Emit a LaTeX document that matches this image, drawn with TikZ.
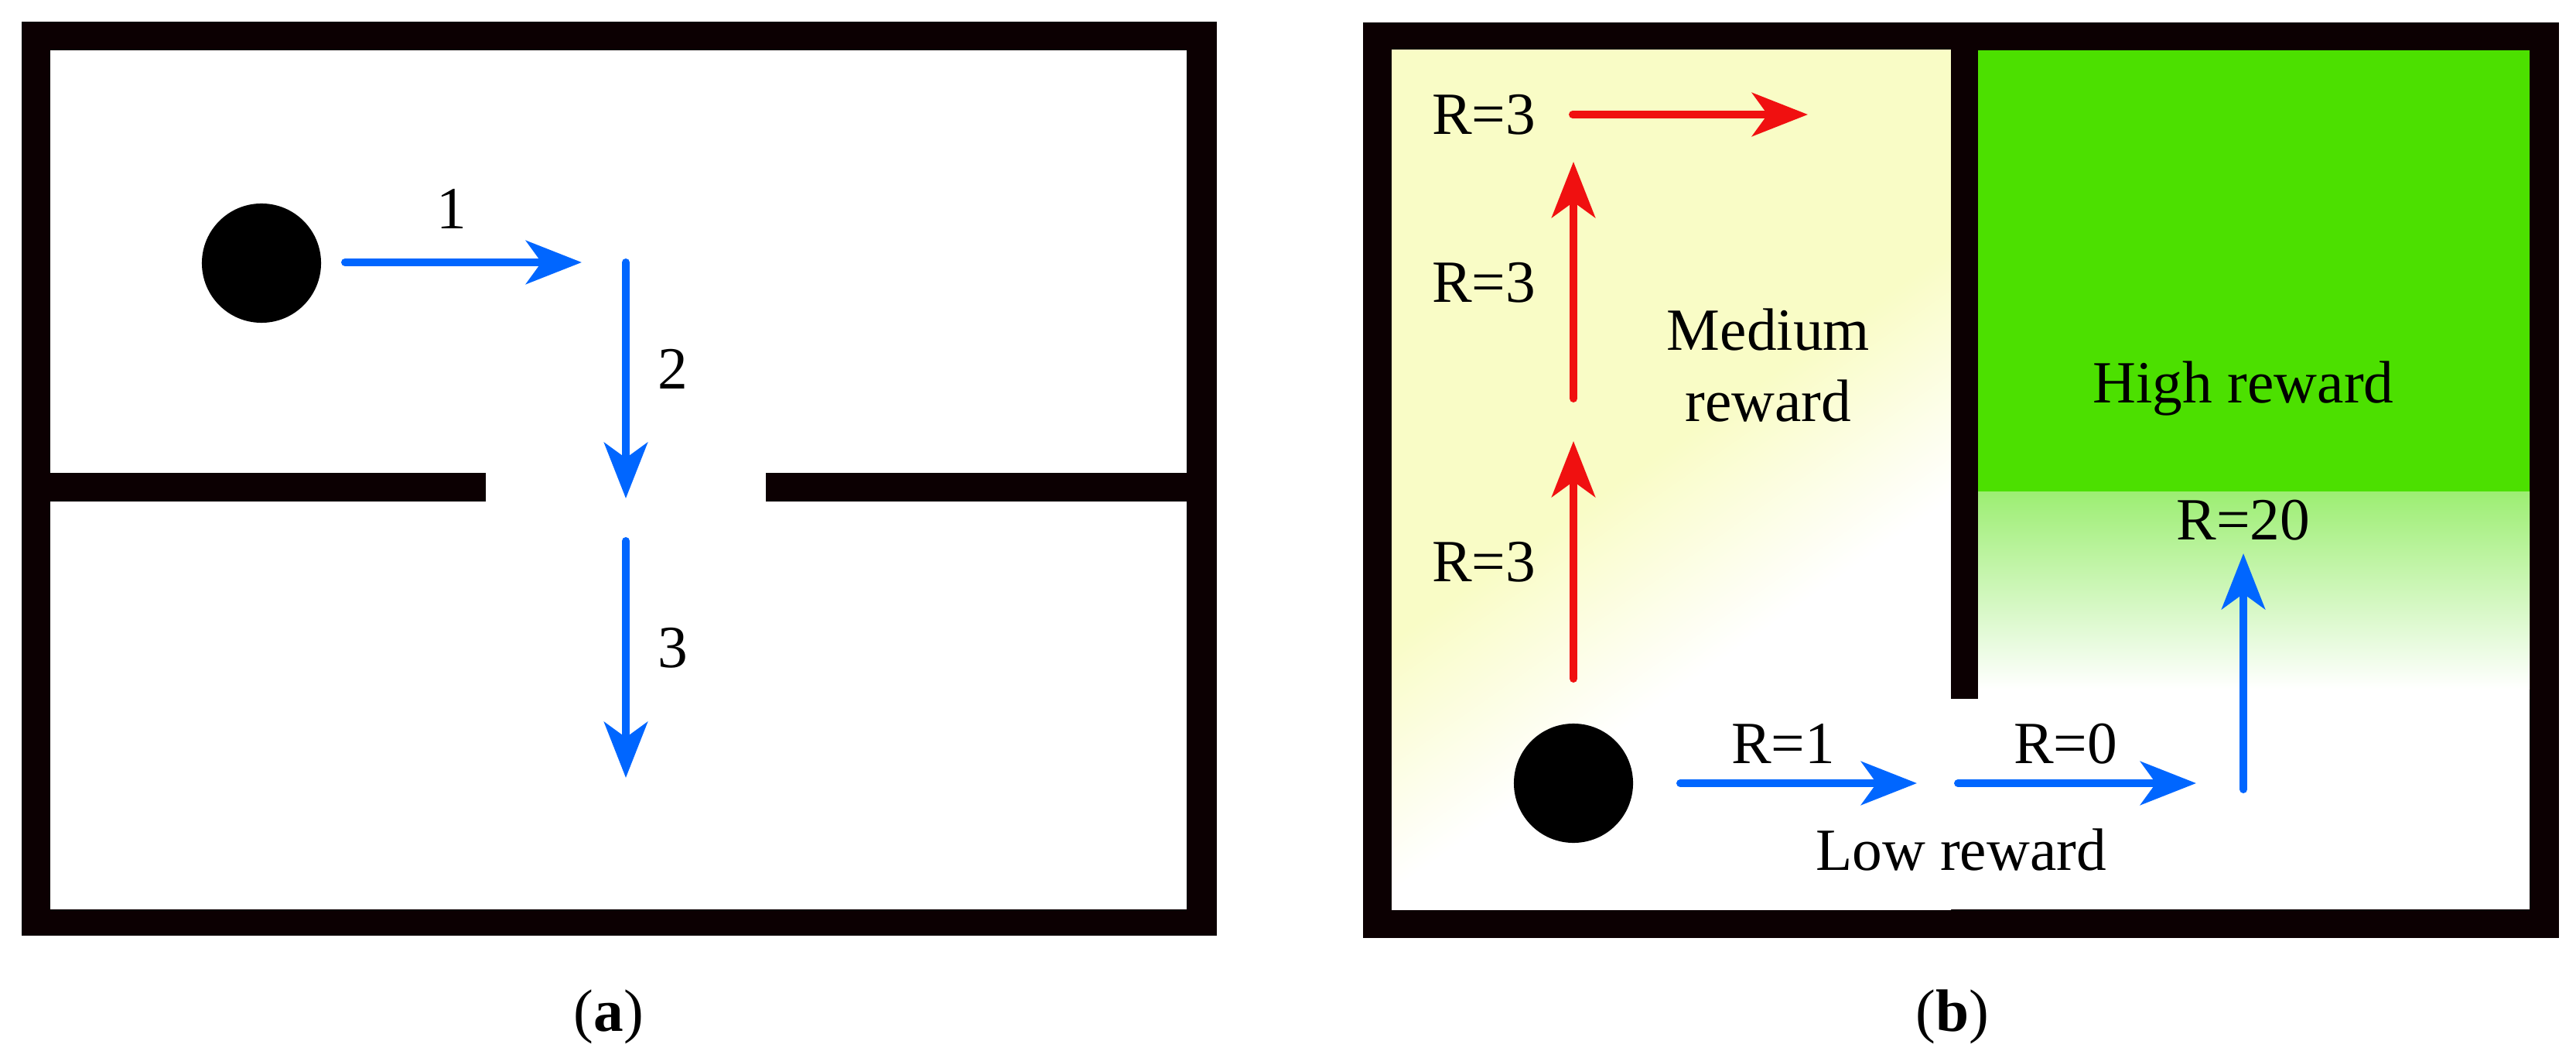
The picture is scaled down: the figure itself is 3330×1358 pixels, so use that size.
\documentclass[tikz,border=0pt]{standalone}
\usepackage{fontspec}
\setmainfont{Liberation Serif}
\usetikzlibrary{arrows.meta}
\definecolor{wall}{RGB}{12,0,2}
\definecolor{arblue}{RGB}{0,102,255}
\definecolor{arred}{RGB}{240,16,16}
\definecolor{hgreen}{RGB}{76,224,0}
\definecolor{myel}{RGB}{249,252,198}
\pgfdeclarehorizontalshading{yelfade}{100bp}{color(0bp)=(myel); color(48bp)=(myel); color(62bp)=(white); color(100bp)=(white)}
\tikzset{
  lbl/.style={font=\fontsize{22}{26}\selectfont, inner sep=0pt},
  bar/.style={fill=wall},
  ball/.style={circle, fill=black, minimum size=1.54cm, inner sep=0pt},
  barrow/.style={draw=arblue, line width=0.1cm, line cap=round, -{Stealth[length=0.72cm,width=0.56cm,inset=0.2cm]}},
  rarrow/.style={draw=arred, line width=0.1cm, line cap=round, -{Stealth[length=0.72cm,width=0.56cm,inset=0.2cm]}}
}
\begin{document}
\begin{tikzpicture}[x=0.01cm,y=-0.01cm]
\useasboundingbox (0,0) rectangle (3330,1358);
% ---- panel (a)
\fill[bar] (28,28) rectangle (1573,1209);
\fill[white] (65,65) rectangle (1534,1175);
\fill[bar] (65,611) rectangle (628,648);
\fill[bar] (990,611) rectangle (1534,648);
\node[ball] (ba) at (338,340) {};
\coordinate (a1s) at (446,339); \coordinate (a1e) at (752,339);
\coordinate (a2s) at (809,339); \coordinate (a2e) at (809,644);
\coordinate (a3s) at (809,699); \coordinate (a3e) at (809,1005);
\draw[barrow] (a1s) -- (a1e);
\draw[barrow] (a2s) -- (a2e);
\draw[barrow] (a3s) -- (a3e);
\node[lbl] (l1) at (584,270) {1};
\node[lbl] (l2) at (870,477) {2};
\node[lbl] (l3) at (870,837) {3};
\node[lbl] (capa) at (787,1314) {(\textbf{a})};
% ---- panel (b)
\fill[bar] (1762,29) rectangle (3308,1212);
\fill[white] (1799,65) rectangle (3270,1175);
\shade[shading=yelfade, shading angle=-55] (1799,65) rectangle (2522,1175);
\fill[hgreen] (2557,65) rectangle (3270,635);
\shade[top color=hgreen!55!white, bottom color=white] (2557,635) rectangle (3270,890);
\fill[bar] (2522,29) rectangle (2557,903);
\node[ball] (bb) at (2034,1012) {};
\coordinate (r1s) at (2034,877); \coordinate (r1e) at (2034,570);
\coordinate (r2s) at (2034,515); \coordinate (r2e) at (2034,209);
\coordinate (r3s) at (2033,148); \coordinate (r3e) at (2337,148);
\draw[rarrow] (r1s) -- (r1e);
\draw[rarrow] (r2s) -- (r2e);
\draw[rarrow] (r3s) -- (r3e);
\coordinate (b1s) at (2172,1012); \coordinate (b1e) at (2478,1012);
\coordinate (b2s) at (2531,1012); \coordinate (b2e) at (2839,1012);
\coordinate (b3s) at (2900,1020); \coordinate (b3e) at (2900,715);
\draw[barrow] (b1s) -- (b1e);
\draw[barrow] (b2s) -- (b2e);
\draw[barrow] (b3s) -- (b3e);
\node[lbl] (t1) at (1918,148) {R=3};
\node[lbl] (t2) at (1918,365) {R=3};
\node[lbl] (t3) at (1918,726) {R=3};
\node[lbl, align=center] (med) at (2286,472) {Medium\\reward};
\node[lbl] (high) at (2900,502) {High reward};
\node[lbl] (r20) at (2900,672) {R=20};
\node[lbl] (rr1) at (2305,961) {R=1};
\node[lbl] (rr0) at (2670,961) {R=0};
\node[lbl] (low) at (2535,1098) {Low reward};
\node[lbl] (capb) at (2524,1314) {(\textbf{b})};
\end{tikzpicture}
\end{document}
